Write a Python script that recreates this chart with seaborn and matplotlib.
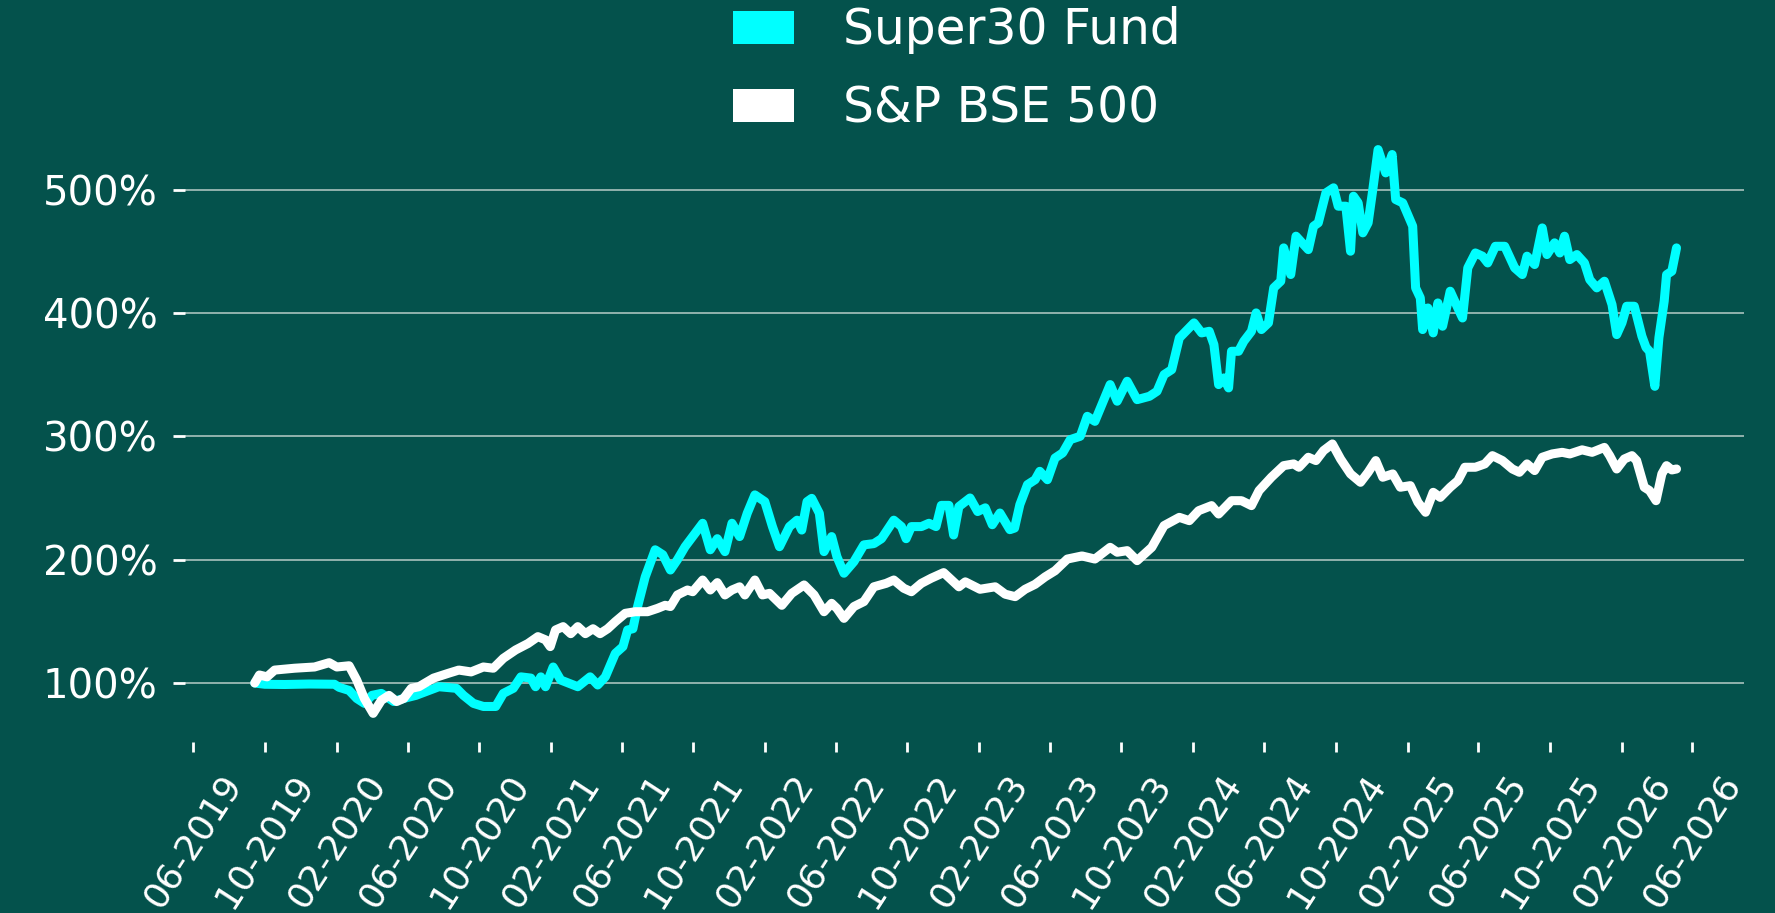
import pandas as pd
import matplotlib
matplotlib.use("Agg")
import matplotlib.pyplot as plt
import matplotlib.dates as mdates
from matplotlib.patches import Patch
import seaborn as sns

# Values (growth of 100 invested, in %)
fund_dates = [
    "2019-09-14", "2019-10-01", "2019-11-04", "2019-12-16", "2020-01-28", "2020-02-05",
    "2020-02-22", "2020-03-06", "2020-03-19", "2020-04-01", "2020-04-17", "2020-05-08",
    "2020-05-25", "2020-06-15", "2020-07-07", "2020-07-24", "2020-08-23", "2020-09-04",
    "2020-09-21", "2020-10-08", "2020-10-29", "2020-11-11", "2020-11-28", "2020-12-11",
    "2020-12-28", "2021-01-05", "2021-01-14", "2021-01-22", "2021-02-04", "2021-02-17",
    "2021-03-18", "2021-04-08", "2021-04-21", "2021-05-04", "2021-05-21", "2021-06-03",
    "2021-06-11", "2021-06-20", "2021-06-28", "2021-07-11", "2021-07-28", "2021-08-10",
    "2021-08-23", "2021-09-04", "2021-09-17", "2021-09-30", "2021-10-17", "2021-10-30",
    "2021-11-11", "2021-11-24", "2021-12-06", "2021-12-19", "2022-01-01", "2022-01-14",
    "2022-01-31", "2022-02-13", "2022-02-25", "2022-03-14", "2022-03-27", "2022-04-04",
    "2022-04-13", "2022-04-21", "2022-05-04", "2022-05-12", "2022-05-25", "2022-06-03",
    "2022-06-15", "2022-07-02", "2022-07-19", "2022-08-05", "2022-08-18", "2022-09-08",
    "2022-09-21", "2022-09-29", "2022-10-08", "2022-10-25", "2022-11-07", "2022-11-19",
    "2022-11-28", "2022-12-11", "2022-12-19", "2022-12-28", "2023-01-08", "2023-01-16",
    "2023-01-29", "2023-02-11", "2023-02-23", "2023-03-08", "2023-03-25", "2023-04-02",
    "2023-04-11", "2023-04-24", "2023-05-07", "2023-05-15", "2023-05-28", "2023-06-10",
    "2023-06-23", "2023-07-06", "2023-07-23", "2023-08-04", "2023-08-17", "2023-08-30",
    "2023-09-12", "2023-09-24", "2023-10-11", "2023-10-28", "2023-11-18", "2023-12-01",
    "2023-12-13", "2023-12-26", "2024-01-08", "2024-02-02", "2024-02-15", "2024-02-28",
    "2024-03-07", "2024-03-15", "2024-03-24", "2024-04-01", "2024-04-06", "2024-04-18",
    "2024-04-27", "2024-05-10", "2024-05-18", "2024-05-27", "2024-06-08", "2024-06-17",
    "2024-06-29", "2024-07-04", "2024-07-16", "2024-07-25", "2024-08-07", "2024-08-15",
    "2024-08-24", "2024-09-01", "2024-09-14", "2024-09-27", "2024-10-05", "2024-10-18",
    "2024-10-26", "2024-10-31", "2024-11-08", "2024-11-16", "2024-11-25", "2024-12-03",
    "2024-12-12", "2024-12-25", "2025-01-05", "2025-01-11", "2025-01-23", "2025-02-09",
    "2025-02-14", "2025-02-22", "2025-02-26", "2025-03-07", "2025-03-16", "2025-03-24",
    "2025-04-01", "2025-04-14", "2025-04-27", "2025-05-05", "2025-05-14", "2025-05-27",
    "2025-06-08", "2025-06-17", "2025-06-30", "2025-07-16", "2025-08-02", "2025-08-15",
    "2025-08-23", "2025-09-05", "2025-09-18", "2025-09-26", "2025-10-09", "2025-10-18",
    "2025-10-26", "2025-11-04", "2025-11-16", "2025-11-29", "2025-12-08", "2025-12-20",
    "2026-01-02", "2026-01-15", "2026-01-23", "2026-02-01", "2026-02-09", "2026-02-22",
    "2026-03-07", "2026-03-14", "2026-03-20", "2026-03-29", "2026-04-05", "2026-04-14",
    "2026-04-18", "2026-04-27", "2026-05-05",
]
fund_values = [
    100, 99, 98.8, 99.2, 99, 96.5,
    94, 87.5, 83.5, 90, 91.6, 85,
    87.5, 90, 94, 97, 95.7, 90,
    83.5, 81, 81, 91.6, 95.7, 105,
    104, 97, 105, 97, 113, 102.4,
    97, 105, 98.4, 105, 124, 129.5,
    143, 144, 162, 186, 208, 204,
    191.6, 200, 210.5, 218.7, 229.5, 208,
    217, 206.5, 229.5, 218.7, 237.6, 252.5,
    247, 226.8, 210.5, 226.8, 232, 224,
    247, 249.7, 237.6, 206.5, 218.7, 202.4,
    189, 198.4, 212, 213, 217, 232,
    226.8, 217, 226.8, 226.8, 229.5, 226.8,
    244, 244, 220, 243, 247, 250,
    239, 242, 228.3, 237.8, 224.3, 225.6,
    244.6, 260.8, 264.8, 271.6, 264.8, 282.4,
    286.5, 297.3, 300, 316.2, 312.1, 327,
    341.9, 328.4, 344.6, 329.7, 332.4, 336.5,
    350, 354, 379.7, 391.9, 383.8, 385.1,
    374.3, 341.9, 347.3, 339.2, 368.9, 368.9,
    377, 385.1, 400, 386.5, 391.9, 420.3,
    425.7, 452.7, 431.1, 462.2, 455.4, 451.3,
    470.3, 473, 497.3, 501.4, 486.5, 486.5,
    450, 494.6, 489.2, 464.9, 473, 500,
    532.4, 513.5, 528.4, 491.9, 489.2, 470.3,
    420.3, 412.2, 386.5, 404, 383.8, 408.1,
    389.2, 417.6, 404, 395.9, 436.5, 448.6,
    446, 440.5, 454, 454, 436.5, 431.1,
    446, 439.2, 468.9, 447.3, 456.8, 448.6,
    462.2, 443.2, 447.3, 440.5, 427, 420.3,
    425.7, 406.7, 382.4, 392, 405.4, 405.4,
    381.1, 372, 368.9, 340.5, 380, 409.5,
    431, 433.8, 452.7,
]

index_dates = [
    "2019-09-14", "2019-09-22", "2019-10-05", "2019-10-18", "2019-11-21", "2019-12-25",
    "2020-01-19", "2020-02-01", "2020-02-22", "2020-03-06", "2020-03-19", "2020-04-03",
    "2020-04-17", "2020-04-30", "2020-05-13", "2020-05-25", "2020-06-07", "2020-06-20",
    "2020-07-15", "2020-08-10", "2020-08-27", "2020-09-17", "2020-10-08", "2020-10-25",
    "2020-11-11", "2020-12-02", "2020-12-23", "2021-01-09", "2021-01-22", "2021-01-30",
    "2021-02-08", "2021-02-21", "2021-03-06", "2021-03-18", "2021-03-31", "2021-04-13",
    "2021-04-25", "2021-05-08", "2021-05-21", "2021-06-07", "2021-06-24", "2021-07-15",
    "2021-08-01", "2021-08-14", "2021-08-23", "2021-09-04", "2021-09-21", "2021-09-30",
    "2021-10-17", "2021-10-30", "2021-11-11", "2021-11-24", "2021-12-06", "2021-12-19",
    "2021-12-28", "2022-01-14", "2022-01-27", "2022-02-08", "2022-03-01", "2022-03-18",
    "2022-04-08", "2022-04-25", "2022-05-12", "2022-05-25", "2022-06-03", "2022-06-15",
    "2022-07-02", "2022-07-19", "2022-08-05", "2022-08-26", "2022-09-08", "2022-09-25",
    "2022-10-08", "2022-10-25", "2022-11-11", "2022-12-02", "2022-12-19", "2022-12-28",
    "2023-01-08", "2023-02-02", "2023-02-28", "2023-03-17", "2023-04-03", "2023-04-20",
    "2023-05-07", "2023-05-24", "2023-06-10", "2023-07-01", "2023-07-26", "2023-08-17",
    "2023-09-12", "2023-09-24", "2023-10-11", "2023-10-28", "2023-11-22", "2023-12-13",
    "2024-01-08", "2024-01-25", "2024-02-10", "2024-03-03", "2024-03-15", "2024-04-06",
    "2024-04-23", "2024-05-10", "2024-05-23", "2024-06-13", "2024-07-04", "2024-07-21",
    "2024-07-30", "2024-08-15", "2024-08-28", "2024-09-10", "2024-09-25", "2024-10-09",
    "2024-10-26", "2024-11-12", "2024-11-25", "2024-12-08", "2024-12-20", "2025-01-06",
    "2025-01-19", "2025-02-05", "2025-02-18", "2025-03-03", "2025-03-16", "2025-03-28",
    "2025-04-14", "2025-04-27", "2025-05-09", "2025-05-27", "2025-06-12", "2025-06-25",
    "2025-07-12", "2025-07-29", "2025-08-10", "2025-08-23", "2025-09-05", "2025-09-18",
    "2025-10-05", "2025-10-22", "2025-11-04", "2025-11-25", "2025-12-12", "2026-01-02",
    "2026-01-11", "2026-01-23", "2026-02-05", "2026-02-18", "2026-02-26", "2026-03-11",
    "2026-03-20", "2026-03-31", "2026-04-10", "2026-04-18", "2026-04-27", "2026-05-05",
]
index_values = [
    100, 106.5, 105, 110.5, 112, 113,
    116.5, 113, 114, 102.4, 87.5, 75.4,
    86, 90, 85, 87.5, 95.7, 97,
    104, 108, 110.5, 109, 113, 112,
    120, 126.8, 132, 137.6, 135, 129.5,
    143, 145.7, 140, 145.7, 140, 144,
    140, 144, 149.7, 156.5, 157.8, 157.8,
    160.5, 163, 162, 171.4, 175.4, 174,
    183.5, 175.4, 181.4, 171.4, 175.4, 178,
    171.4, 183.5, 171.4, 172.7, 163, 172.7,
    179.5, 171.4, 157.8, 164.6, 160.5, 152.4,
    162, 166, 178, 180.8, 183.5, 176.8,
    174, 180.8, 185, 189.5, 182, 178,
    182, 176, 178, 172, 170, 176,
    180, 186, 191, 200.5, 203, 200.5,
    210, 206, 207.3, 199.2, 210, 227.6,
    234.3, 231.6, 239.7, 243.8, 237, 247.8,
    247.8, 243.8, 256, 266.8, 276.2, 277.6,
    274.9, 283, 280.3, 288.4, 293.8, 281.6,
    269.5, 262.7, 270.8, 280.3, 266.8, 269.5,
    258.7, 260, 246.5, 238.4, 254.6, 250.5,
    258.7, 264, 274.9, 274.9, 277.6, 284.3,
    280.3, 273.5, 270.8, 277.6, 272.2, 283,
    285.7, 287, 285.7, 289, 287, 291,
    284.3, 273.5, 281.6, 284.3, 280.3, 258.7,
    256, 247.8, 269.5, 276.2, 272.7, 273.5,
]

series_names = ["Super30 Fund", "S&P BSE 500"]
series_colors = ["#00ffff", "#ffffff"]
y_ticks = [100, 200, 300, 400, 500]

bg = "#04524c"
sns.set_style("white", {"axes.facecolor": bg, "figure.facecolor": bg})
plt.rcParams["font.family"] = ["DejaVu Sans"]

df = pd.concat([
    pd.DataFrame({"date": pd.to_datetime(fund_dates), "value": fund_values,
                  "series": series_names[0]}),
    pd.DataFrame({"date": pd.to_datetime(index_dates), "value": index_values,
                  "series": series_names[1]}),
], ignore_index=True)

fig = plt.figure(figsize=(17.75, 9.13), dpi=100)
ax = fig.add_axes([0.1042, 0.1873, 0.8783, 0.6659])

sns.lineplot(data=df, x="date", y="value", hue="series", hue_order=series_names,
             palette=dict(zip(series_names, series_colors)), linewidth=6.5,
             estimator=None, sort=False, legend=False, ax=ax)

# axes look
ax.set_xlim(pd.Timestamp("2019-05-18"), pd.Timestamp("2026-08-28"))
ax.set_ylim(52.2, 545)
ax.set_xlabel("")
ax.set_ylabel("")
for s in ax.spines.values():
    s.set_visible(False)
ax.set_yticks(y_ticks)
ax.set_yticklabels([f"{v}%" for v in y_ticks])
ax.yaxis.grid(True, color="#a9c2be", linewidth=1.2)
ax.xaxis.grid(False)
ax.set_axisbelow(True)

ax.xaxis.set_major_locator(mdates.MonthLocator(bymonth=[2, 6, 10]))
ax.xaxis.set_major_formatter(mdates.DateFormatter("%m-%Y"))
ax.tick_params(axis="y", left=True, colors="white", labelsize=29,
               length=8.6, width=2, pad=11)
ax.tick_params(axis="x", bottom=True, colors="white", labelsize=26,
               length=7, width=2, pad=12, labelrotation=57)

handles = [Patch(facecolor=c, edgecolor="none", label=n)
           for n, c in zip(series_names, series_colors)]
fig.legend(handles=handles, loc="upper center", bbox_to_anchor=(0.539, 1.025),
           frameon=False, fontsize=35, labelcolor="white",
           handlelength=1.25, handleheight=0.66, handletextpad=1.0,
           labelspacing=0.62, borderpad=0.1)

fig.savefig("out.png", dpi=100, facecolor=bg)
